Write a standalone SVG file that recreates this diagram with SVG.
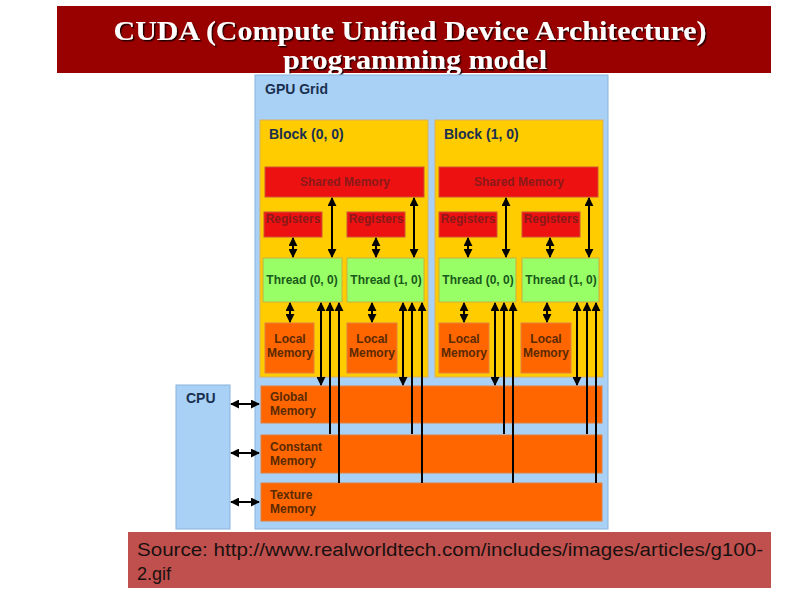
<svg xmlns="http://www.w3.org/2000/svg" width="800" height="600" viewBox="0 0 800 600">
<defs>
<marker id="ah" viewBox="0 0 10 10" refX="9" refY="5" markerWidth="4.5" markerHeight="4.5" orient="auto-start-reverse" markerUnits="strokeWidth">
<path d="M0,0 L10,5 L0,10 z" fill="#000"/>
</marker>
<filter id="sh" x="-5%" y="-20%" width="110%" height="140%">
<feDropShadow dx="1.5" dy="1.5" stdDeviation="0.6" flood-color="#000" flood-opacity="0.8"/>
</filter>
</defs>
<style>
.title{font-family:"Liberation Serif",serif;font-weight:bold;font-size:27px;fill:#fff;text-anchor:middle}
.lbl{font-family:"Liberation Sans",Arial,sans-serif;font-weight:bold}
.grid{fill:#a9d0f5;stroke:#8ab4dc;stroke-width:1}
.block{fill:#ffcc00;stroke:#d9b060;stroke-width:1}
.red{fill:#ee1111;stroke:#cc5533;stroke-width:1}
.thr{fill:#99ff66;stroke:#c8b040;stroke-width:1}
.org{fill:#ff6600;stroke:#e08040;stroke-width:1}
.cpu{fill:#a9d0f5;stroke:#8ab4dc;stroke-width:1}
.rt{fill:#8a1a1a;font-size:12px;text-anchor:middle}
.tt{fill:#1a5a1a;font-size:12px;text-anchor:middle}
.ot{fill:#5a2a00;font-size:12px}
.hd{fill:#1a3050;font-size:14px}
.c{stroke:#000;stroke-width:2;fill:none}
</style>
<rect x="0" y="0" width="800" height="600" fill="#fff"/>
<g id="title">
<rect x="57" y="6" width="714" height="67" fill="#990000"/>
<text class="title" x="410" y="40" filter="url(#sh)" textLength="593" lengthAdjust="spacingAndGlyphs">CUDA (Compute Unified Device Architecture)</text>
<text class="title" x="415" y="69" filter="url(#sh)" textLength="264" lengthAdjust="spacingAndGlyphs">programming model</text>
</g>
<g id="gpu-grid">
<rect class="grid" x="255" y="75" width="353" height="454"/>
<text class="lbl hd" x="265" y="94">GPU Grid</text>
</g>
<g id="cpu">
<rect class="cpu" x="176" y="385" width="54" height="144"/>
<text class="lbl hd" x="186" y="403">CPU</text>
</g>
<g id="block-0-0">
<rect class="block" x="260" y="120" width="168" height="257"/>
<text class="lbl hd" x="269" y="139" fill="#2a2a10">Block (0, 0)</text>
</g>
<g id="block-1-0">
<rect class="block" x="435" y="120" width="168" height="257"/>
<text class="lbl hd" x="444" y="139" fill="#2a2a10">Block (1, 0)</text>
</g>
<g id="shared-0">
<rect class="red" x="265" y="167" width="159" height="30"/>
<text class="lbl rt" x="345" y="186">Shared Memory</text>
</g>
<g id="shared-1">
<rect class="red" x="439" y="167" width="159" height="30"/>
<text class="lbl rt" x="519" y="186">Shared Memory</text>
</g>
<g id="reg-0-0"><rect class="red" x="264" y="212" width="58" height="25"/><text class="lbl rt" x="293" y="223">Registers</text></g>
<g id="reg-0-1"><rect class="red" x="347" y="212" width="58" height="25"/><text class="lbl rt" x="376" y="223">Registers</text></g>
<g id="reg-1-0"><rect class="red" x="439" y="212" width="58" height="25"/><text class="lbl rt" x="468" y="223">Registers</text></g>
<g id="reg-1-1"><rect class="red" x="522" y="212" width="58" height="25"/><text class="lbl rt" x="551" y="223">Registers</text></g>
<g id="thread-0-0"><rect class="thr" x="263" y="258" width="79" height="44"/><text class="lbl tt" x="302" y="284">Thread (0, 0)</text></g>
<g id="thread-0-1"><rect class="thr" x="347" y="258" width="77" height="44"/><text class="lbl tt" x="386" y="284">Thread (1, 0)</text></g>
<g id="thread-1-0"><rect class="thr" x="439" y="258" width="77" height="44"/><text class="lbl tt" x="478" y="284">Thread (0, 0)</text></g>
<g id="thread-1-1"><rect class="thr" x="522" y="258" width="77" height="44"/><text class="lbl tt" x="561" y="284">Thread (1, 0)</text></g>
<g id="local-0-0"><rect class="org" x="265" y="323" width="49" height="50"/><text class="lbl ot" x="290" y="343" text-anchor="middle">Local</text><text class="lbl ot" x="290" y="357" text-anchor="middle">Memory</text></g>
<g id="local-0-1"><rect class="org" x="347" y="323" width="50" height="50"/><text class="lbl ot" x="372" y="343" text-anchor="middle">Local</text><text class="lbl ot" x="372" y="357" text-anchor="middle">Memory</text></g>
<g id="local-1-0"><rect class="org" x="439" y="323" width="50" height="50"/><text class="lbl ot" x="464" y="343" text-anchor="middle">Local</text><text class="lbl ot" x="464" y="357" text-anchor="middle">Memory</text></g>
<g id="local-1-1"><rect class="org" x="521" y="323" width="50" height="50"/><text class="lbl ot" x="546" y="343" text-anchor="middle">Local</text><text class="lbl ot" x="546" y="357" text-anchor="middle">Memory</text></g>
<g id="global-memory"><rect class="org" x="261" y="386" width="341" height="37"/><text class="lbl ot" x="270" y="401">Global</text><text class="lbl ot" x="270" y="415">Memory</text></g>
<g id="constant-memory"><rect class="org" x="261" y="435" width="341" height="38"/><text class="lbl ot" x="270" y="451">Constant</text><text class="lbl ot" x="270" y="465">Memory</text></g>
<g id="texture-memory"><rect class="org" x="261" y="483" width="341" height="38"/><text class="lbl ot" x="270" y="499">Texture</text><text class="lbl ot" x="270" y="513">Memory</text></g>
<g id="connectors">
<line class="c" x1="293" y1="238" x2="293" y2="257" marker-start="url(#ah)" marker-end="url(#ah)"/>
<line class="c" x1="376" y1="238" x2="376" y2="257" marker-start="url(#ah)" marker-end="url(#ah)"/>
<line class="c" x1="468" y1="238" x2="468" y2="257" marker-start="url(#ah)" marker-end="url(#ah)"/>
<line class="c" x1="550" y1="238" x2="550" y2="257" marker-start="url(#ah)" marker-end="url(#ah)"/>
<line class="c" x1="332" y1="198" x2="332" y2="257" marker-start="url(#ah)" marker-end="url(#ah)"/>
<line class="c" x1="414" y1="198" x2="414" y2="257" marker-start="url(#ah)" marker-end="url(#ah)"/>
<line class="c" x1="506" y1="198" x2="506" y2="257" marker-start="url(#ah)" marker-end="url(#ah)"/>
<line class="c" x1="589" y1="198" x2="589" y2="257" marker-start="url(#ah)" marker-end="url(#ah)"/>
<line class="c" x1="290" y1="303" x2="290" y2="322" marker-start="url(#ah)" marker-end="url(#ah)"/>
<line class="c" x1="372" y1="303" x2="372" y2="322" marker-start="url(#ah)" marker-end="url(#ah)"/>
<line class="c" x1="464" y1="303" x2="464" y2="322" marker-start="url(#ah)" marker-end="url(#ah)"/>
<line class="c" x1="547" y1="303" x2="547" y2="322" marker-start="url(#ah)" marker-end="url(#ah)"/>
<line class="c" x1="321" y1="303" x2="321" y2="385" marker-start="url(#ah)" marker-end="url(#ah)"/>
<line class="c" x1="403" y1="303" x2="403" y2="385" marker-start="url(#ah)" marker-end="url(#ah)"/>
<line class="c" x1="495" y1="303" x2="495" y2="385" marker-start="url(#ah)" marker-end="url(#ah)"/>
<line class="c" x1="577" y1="303" x2="577" y2="385" marker-start="url(#ah)" marker-end="url(#ah)"/>
<line class="c" x1="330" y1="434" x2="330" y2="303" marker-end="url(#ah)"/>
<line class="c" x1="412" y1="434" x2="412" y2="303" marker-end="url(#ah)"/>
<line class="c" x1="504" y1="434" x2="504" y2="303" marker-end="url(#ah)"/>
<line class="c" x1="587" y1="434" x2="587" y2="303" marker-end="url(#ah)"/>
<line class="c" x1="339" y1="483" x2="339" y2="303" marker-end="url(#ah)"/>
<line class="c" x1="422" y1="483" x2="422" y2="303" marker-end="url(#ah)"/>
<line class="c" x1="513" y1="483" x2="513" y2="303" marker-end="url(#ah)"/>
<line class="c" x1="596" y1="483" x2="596" y2="303" marker-end="url(#ah)"/>
<line class="c" x1="231" y1="404" x2="259" y2="404" marker-start="url(#ah)" marker-end="url(#ah)"/>
<line class="c" x1="231" y1="453" x2="259" y2="453" marker-start="url(#ah)" marker-end="url(#ah)"/>
<line class="c" x1="231" y1="502" x2="259" y2="502" marker-start="url(#ah)" marker-end="url(#ah)"/>
</g>
<g id="source">
<rect x="128" y="532" width="643" height="56" fill="#c0504d"/>
<text x="137" y="556" font-family="Liberation Sans, Arial, sans-serif" font-size="18" fill="#1a1010" textLength="626" lengthAdjust="spacingAndGlyphs">Source: http://www.realworldtech.com/includes/images/articles/g100-</text>
<text x="137" y="580" font-family="Liberation Sans, Arial, sans-serif" font-size="18" fill="#1a1010">2.gif</text>
</g>
</svg>
